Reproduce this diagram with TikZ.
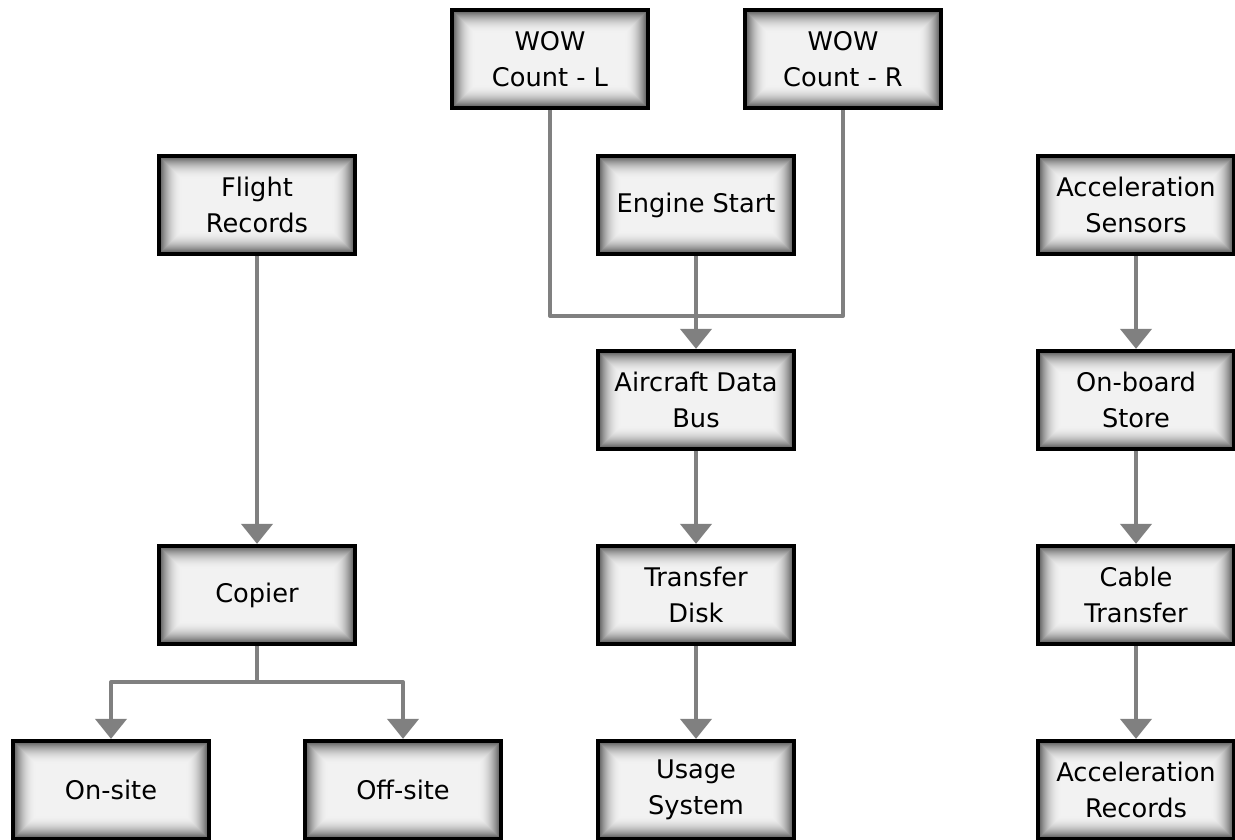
\documentclass[tikz,border=0pt]{standalone}
\usepackage{fontspec}
\setmainfont{DejaVu Sans}
\usepackage{tikz}
\usetikzlibrary{arrows.meta,positioning,calc}
\definecolor{linkgray}{RGB}{128,128,128}

\tikzset{
  unit/.style={draw=black, line width=2.4pt, minimum width=3.92cm, minimum height=1.96cm,
    inner sep=0pt, align=center, font=\fontsize{14.6}{20.5}\selectfont,
    path picture={
      \foreach \k in {0,...,23}{
        \pgfmathsetmacro\shadeval{5+62*(1-\k/24)^2.2}
        \fill[black!\shadeval]
          ($(path picture bounding box.south west)+(\k*0.02,\k*0.02)$) rectangle
          ($(path picture bounding box.north east)-(\k*0.02,\k*0.02)$);
      }
    }},
  link/.style={draw=linkgray, line width=2.3pt, line join=round},
  flow/.style={link, -{Triangle[width=0.62cm,length=0.4cm]}}
}

\begin{document}
\begin{tikzpicture}
  \useasboundingbox (0,0) rectangle (24.7,16.8);

  % sources
  \node[unit] (wowl) at (11.0,15.62) {WOW\\Count - L};
  \node[unit] (wowr) at (16.86,15.62) {WOW\\Count - R};
  \node[unit] (flight) at (5.14,12.70) {Flight\\Records};
  \node[unit] (engine) at (13.92,12.70) {Engine Start};
  \node[unit] (accsens) at (22.72,12.70) {Acceleration\\Sensors};

  % middle rows
  \node[unit] (adb) at (13.92,8.80) {Aircraft Data\\Bus};
  \node[unit] (store) at (22.72,8.80) {On-board\\Store};
  \node[unit] (copier) at (5.14,4.90) {Copier};
  \node[unit] (disk) at (13.92,4.90) {Transfer\\Disk};
  \node[unit] (cable) at (22.72,4.90) {Cable\\Transfer};

  % outputs
  \node[unit] (onsite) at (2.22,1.00) {On-site};
  \node[unit] (offsite) at (8.06,1.00) {Off-site};
  \node[unit] (usage) at (13.92,1.00) {Usage\\System};
  \node[unit] (accrec) at (22.72,1.00) {Acceleration\\Records};

  % connectors
  \coordinate (join) at (13.92,10.48);
  \coordinate (split) at (5.14,3.16);
  \draw[link] (wowl.south) |- (join);
  \draw[link] (wowr.south) |- (join);
  \draw[flow] (engine) -- (adb);
  \draw[flow] (adb) -- (disk);
  \draw[flow] (disk) -- (usage);
  \draw[flow] (flight) -- (copier);
  \draw[link] (copier.south) -- (split);
  \draw[flow] (split) -| (onsite.north);
  \draw[flow] (split) -| (offsite.north);
  \draw[flow] (accsens) -- (store);
  \draw[flow] (store) -- (cable);
  \draw[flow] (cable) -- (accrec);
\end{tikzpicture}
\end{document}
